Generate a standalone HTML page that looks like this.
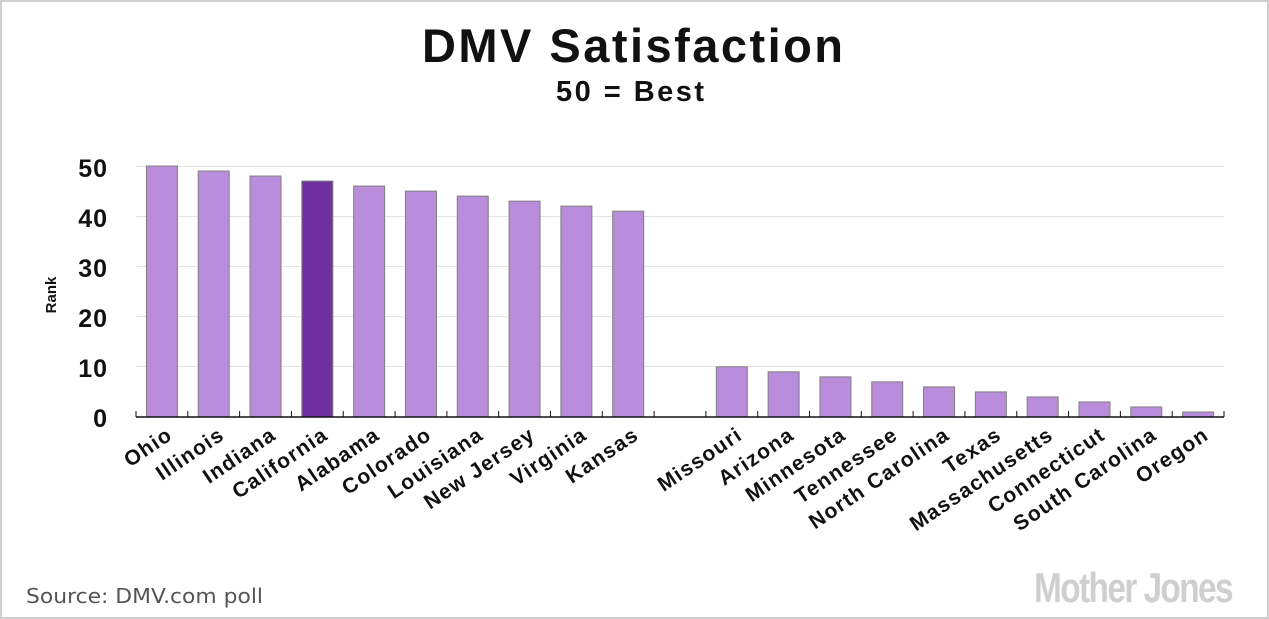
<!DOCTYPE html>
<html><head><meta charset="utf-8"><style>
body{margin:0;background:#fff}
svg{display:block;font-family:"Liberation Sans",sans-serif}
</style></head><body>
<svg width="1269" height="619" viewBox="0 0 1269 619">
<rect x="1" y="1" width="1267" height="617" fill="#fff" stroke="#cfcfcf" stroke-width="2"/>
<text x="422" y="62" font-size="47" font-weight="bold" fill="#111" textLength="421" lengthAdjust="spacing">DMV Satisfaction</text>
<text x="556" y="101" font-size="29" font-weight="bold" fill="#111" textLength="148" lengthAdjust="spacing">50 = Best</text>
<g stroke="#e4e4e4" stroke-width="1">
<line x1="136" x2="1224" y1="166.5" y2="166.5"/><line x1="136" x2="1224" y1="216.5" y2="216.5"/>
<line x1="136" x2="1224" y1="266.5" y2="266.5"/><line x1="136" x2="1224" y1="316.5" y2="316.5"/>
<line x1="136" x2="1224" y1="366.5" y2="366.5"/>
</g>
<g font-size="25" font-weight="bold" fill="#111" text-anchor="end" style="letter-spacing:1px">
<text x="108" y="177">50</text><text x="108" y="227">40</text><text x="108" y="277">30</text>
<text x="108" y="327">20</text><text x="108" y="377">10</text><text x="108" y="427">0</text>
</g>
<text transform="translate(56,295) rotate(-90)" text-anchor="middle" font-size="15" font-weight="bold" fill="#111">Rank</text>
<g id="bars" stroke="#808080" stroke-width="1"></g>
<line x1="136" x2="1224" y1="417" y2="417" stroke="#111" stroke-width="1.5"/>
<g id="ticks" stroke="#111" stroke-width="1"></g>
<g id="labels" font-size="21" font-weight="bold" fill="#111" text-anchor="end" style="letter-spacing:1.3px"></g>
<text x="26" y="603" font-size="20" fill="#555" textLength="237" lengthAdjust="spacingAndGlyphs" style="font-family:'DejaVu Sans',sans-serif">Source: DMV.com poll</text>
<text x="1133" y="602" text-anchor="middle" font-size="42" font-weight="bold" fill="#cfcfcf" textLength="198" lengthAdjust="spacingAndGlyphs" style="letter-spacing:-2px">Mother Jones</text>
<script>
var d=[["Ohio",50],["Illinois",49],["Indiana",48],["California",47],["Alabama",46],["Colorado",45],["Louisiana",44],["New Jersey",43],["Virginia",42],["Kansas",41],["",0],["Missouri",10],["Arizona",9],["Minnesota",8],["Tennessee",7],["North Carolina",6],["Texas",5],["Massachusetts",4],["Connecticut",3],["South Carolina",2],["Oregon",1]];
var ns="http://www.w3.org/2000/svg",w=(1224-136)/21,b=document.getElementById("bars"),t=document.getElementById("ticks"),l=document.getElementById("labels");
for(var i=0;i<=21;i++){var x=136+i*w;var e=document.createElementNS(ns,"line");e.setAttribute("x1",x);e.setAttribute("x2",x);e.setAttribute("y1",411);e.setAttribute("y2",417);t.appendChild(e);}
d.forEach(function(r,i){var c=136+i*w+w/2;if(r[0]){var h=r[1]*5.02;var e=document.createElementNS(ns,"rect");e.setAttribute("x",c-15.5);e.setAttribute("width",31);e.setAttribute("y",417-h);e.setAttribute("height",h);e.setAttribute("fill",r[0]=="California"?"#7030a0":"#b98cdc");b.appendChild(e);
var s=document.createElementNS(ns,"text");s.setAttribute("transform","translate("+(c+12)+",438) rotate(-34)");s.textContent=r[0];l.appendChild(s);}});
</script>
</svg>
</body></html>
